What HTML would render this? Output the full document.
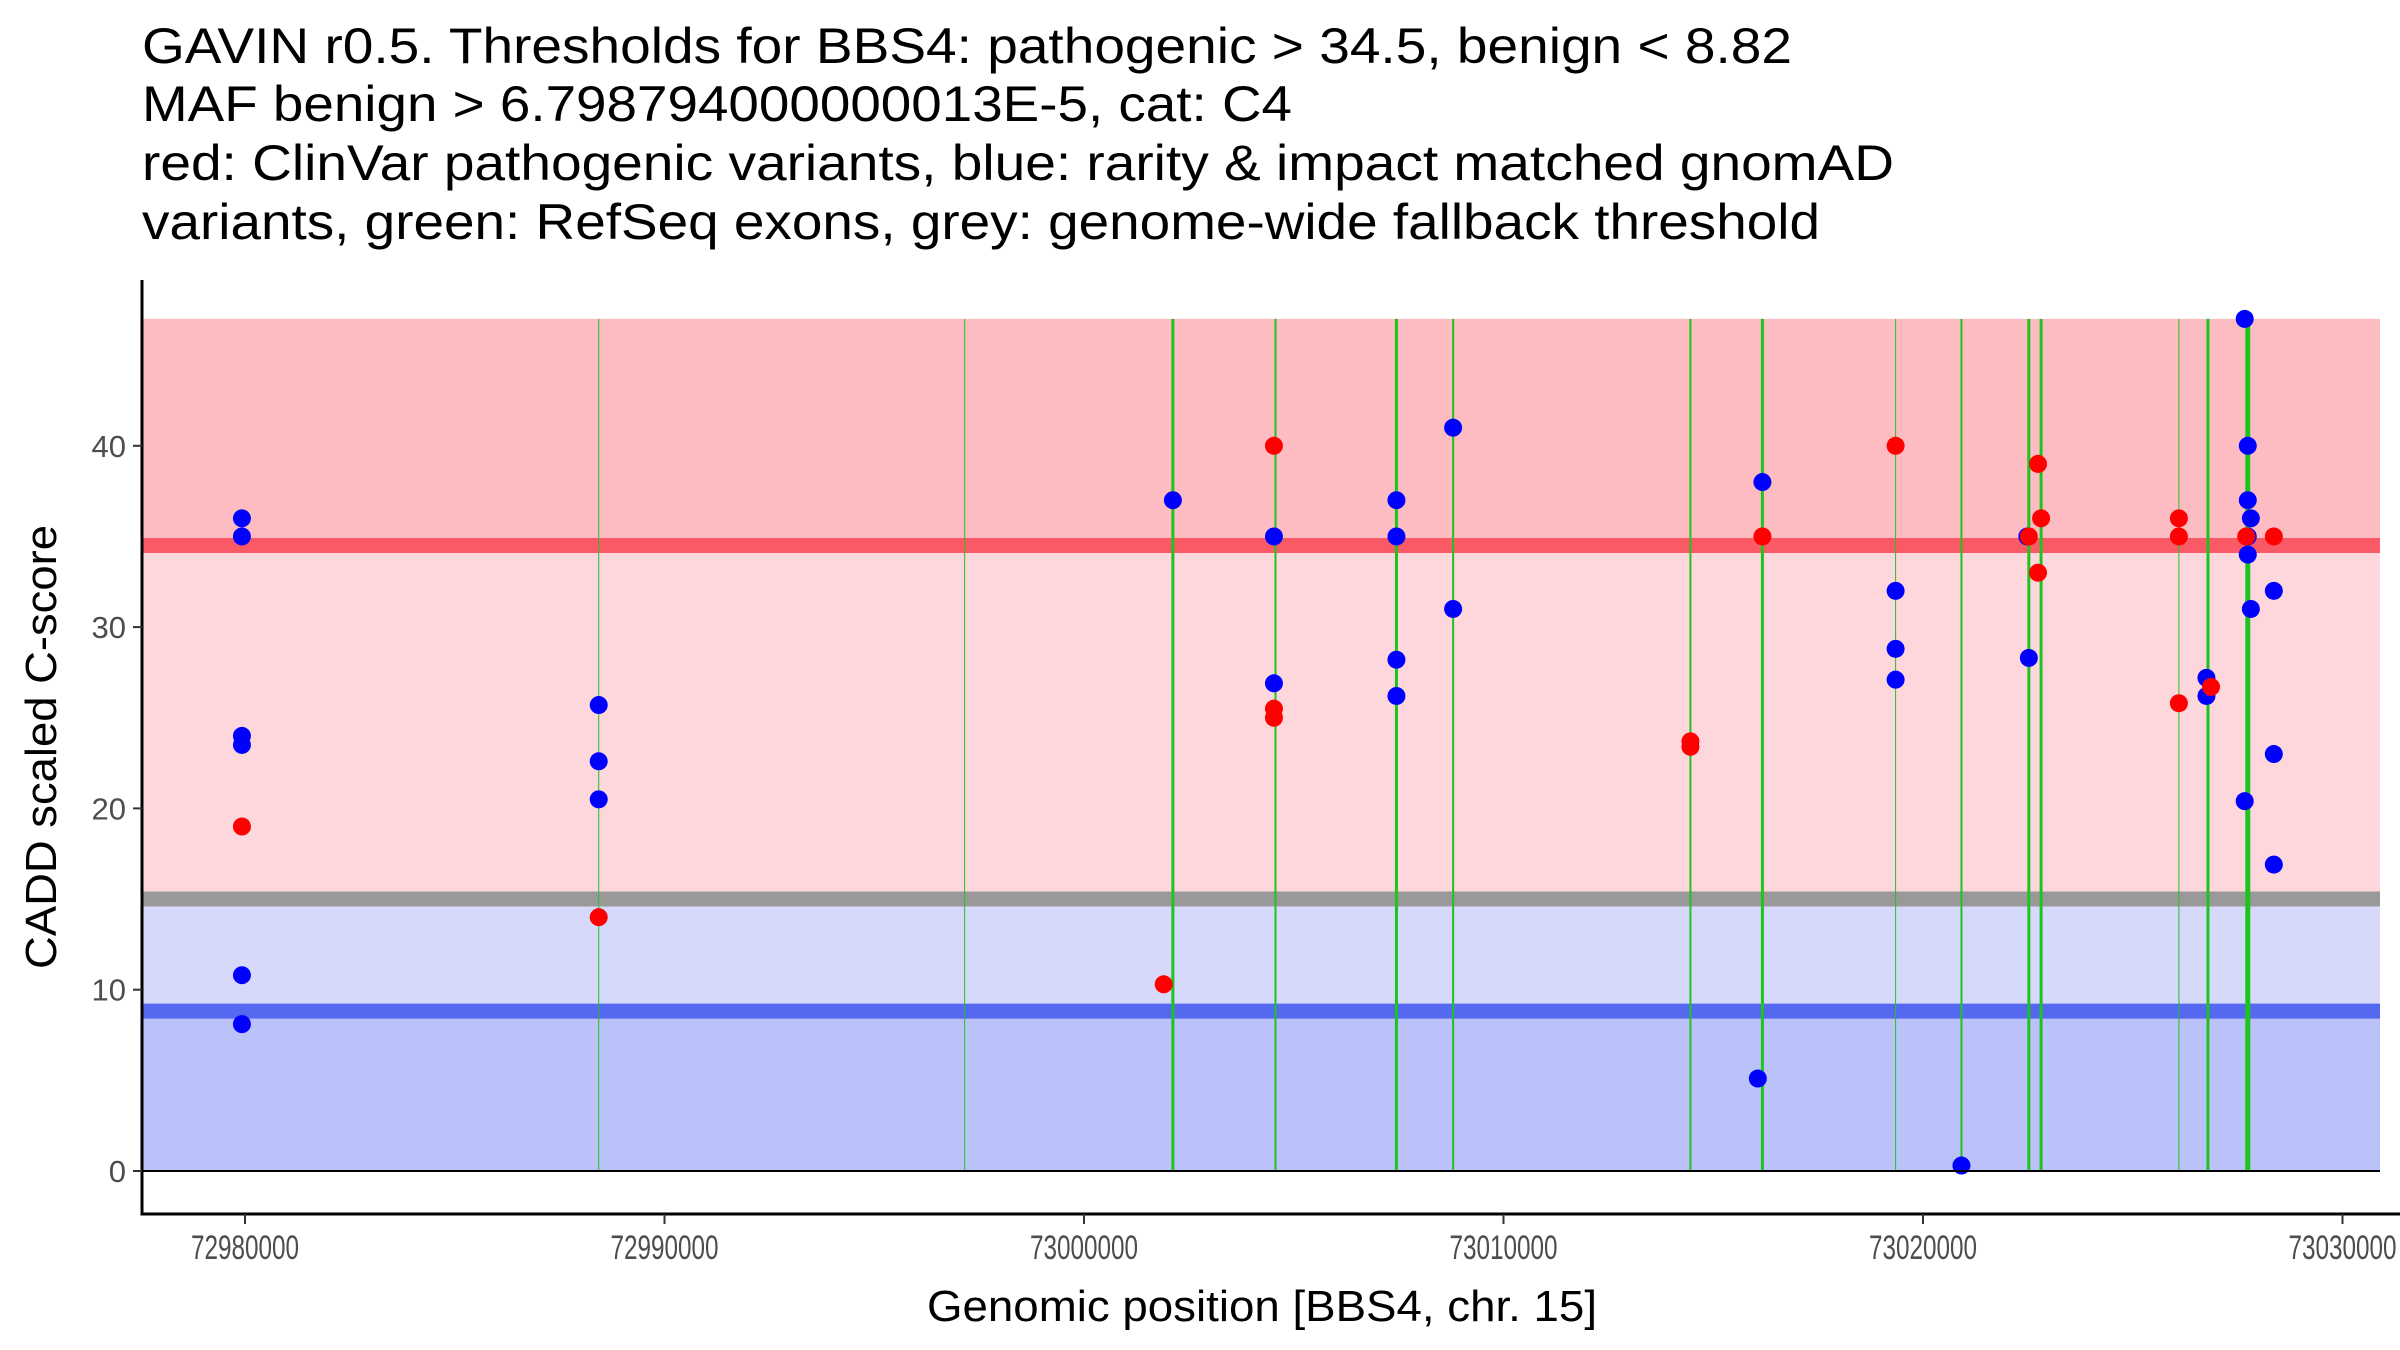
<!DOCTYPE html>
<html><head><meta charset="utf-8"><style>
html,body{margin:0;padding:0;background:#fff}
svg{display:block}
text{font-family:"Liberation Sans",Arial,sans-serif}
</style></head><body>
<svg id="chart" width="2400" height="1350" viewBox="0 0 2400 1350" xmlns="http://www.w3.org/2000/svg">
<g font-size="50" fill="#000">
<text x="142" y="63" textLength="1650" lengthAdjust="spacingAndGlyphs">GAVIN r0.5. Thresholds for BBS4: pathogenic &gt; 34.5, benign &lt; 8.82</text>
<text x="142" y="121" textLength="1150" lengthAdjust="spacingAndGlyphs">MAF benign &gt; 6.798794000000013E-5, cat: C4</text>
<text x="142" y="180" textLength="1752" lengthAdjust="spacingAndGlyphs">red: ClinVar pathogenic variants, blue: rarity &amp; impact matched gnomAD</text>
<text x="142" y="239" textLength="1678" lengthAdjust="spacingAndGlyphs">variants, green: RefSeq exons, grey: genome-wide fallback threshold</text>
</g>
<g id="bands"></g>
<g id="exons"></g>
<g id="points"></g>
<g id="axes"></g>
</svg>
<script>
const exonPositions=[72988432,72997155,73002119,73004565,73007448,73008799,73014456,73016172,73019347,73020917,73022523,73022815,73026100,73026793,73027742];
const exonWidths=[1,1,3,2,3,2,2,3,1,2,3,3,1,3,5];
const benignPos=[72979927,72979927,72979927,72979927,72979927,72979927,72988432,72988432,72988432,73002119,73004528,73004528,73007448,73007448,73007448,73007448,73008799,73008799,73016172,73016062,73019347,73019347,73019347,73020917,73022486,73022523,73026757,73026757,73027669,73027742,73027742,73027815,73027742,73027742,73027815,73027669,73028363,73028363,73028363];
const benignScore=[36,35,24,23.5,10.8,8.1,25.7,22.6,20.5,37,35,26.9,37,35,28.2,26.2,41,31,38,5.1,32,28.8,27.1,0.3,35,28.3,27.2,26.2,47,40,37,36,35,34,31,20.4,32,23,16.9];
const pathoPos=[72979927,72988432,73001900,73004528,73004528,73004528,73014456,73014456,73016172,73019347,73022523,73022742,73022815,73022742,73026100,73026100,73026100,73026866,73027705,73028363];
const pathoScore=[19,14,10.3,40,25.5,25.0,23.7,23.4,35,40,35,39,36,33,36,35,25.8,26.7,35,35];
const xTicks=[72980000,72990000,73000000,73010000,73020000,73030000];
const yTicks=[0,10,20,30,40];
const thrPatho=34.5, thrBenign=8.82, thrFallback=15, yTop=47;

const NS="http://www.w3.org/2000/svg";
const L=142,R=2380,T=280,B=1214;
const xs=v=>245+(v-72980000)/10000*419.5;
const ys=v=>1171-v*18.13;
function mk(p,tag,a){const e=document.createElementNS(NS,tag);for(const k in a)e.setAttribute(k,a[k]);p.appendChild(e);return e;}
const bands=document.getElementById('bands');
function band(lo,hi,c,n){const e=mk(bands,'rect',{x:L,y:ys(hi),width:R-L,height:ys(lo)-ys(hi),fill:c});

}
band(thrPatho,yTop,'#fdbcc1','pathogenic-band');
band(thrFallback,thrPatho,'#fdd7db','intermediate-band');
band(thrBenign,thrFallback,'#d7d9fb','benign-light-band');
band(0,thrBenign,'#bbc1f9','benign-band');
function hl(v,c,n){const e=mk(bands,'line',{x1:L,x2:R,y1:ys(v),y2:ys(v),stroke:c,'stroke-width':15});

}
hl(thrPatho,'#fa5a66','pathogenic-threshold-line');
hl(thrFallback,'#999999','fallback-threshold-line');
hl(thrBenign,'#5468f0','benign-threshold-line');
const ex=document.getElementById('exons');
exonPositions.forEach((p,i)=>{const e=mk(ex,'line',{x1:xs(p),x2:xs(p),y1:ys(yTop),y2:ys(0),stroke:'#1ec41e','stroke-width':exonWidths[i]});

});
const pts=document.getElementById('points');
benignPos.forEach((p,i)=>{const e=mk(pts,'circle',{cx:xs(p),cy:ys(benignScore[i]),r:9,fill:'#0000ff'});

});
pathoPos.forEach((p,i)=>{const e=mk(pts,'circle',{cx:xs(p),cy:ys(pathoScore[i]),r:9,fill:'#ff0000'});

});
const ax=document.getElementById('axes');
mk(ax,'line',{x1:L,x2:L,y1:T,y2:B+1.5,stroke:'#000','stroke-width':3});
mk(ax,'line',{x1:L-1.5,x2:2400,y1:B,y2:B,stroke:'#000','stroke-width':3});
mk(ax,'line',{x1:L,x2:R,y1:ys(0),y2:ys(0),stroke:'#000','stroke-width':2});
yTicks.forEach(v=>{mk(ax,'line',{x1:L-9,x2:L,y1:ys(v),y2:ys(v),stroke:'#333','stroke-width':2});
const t=mk(ax,'text',{x:L-16,y:ys(v)+11,'text-anchor':'end','font-size':31,fill:'#4d4d4d'});t.textContent=v;

});
xTicks.forEach(v=>{mk(ax,'line',{x1:xs(v),x2:xs(v),y1:B,y2:B+10,stroke:'#333','stroke-width':2});
const t=mk(ax,'text',{x:xs(v),y:B+45,'text-anchor':'middle','font-size':34,fill:'#4d4d4d',textLength:108,lengthAdjust:'spacingAndGlyphs'});t.textContent=v;

});
const xt=mk(ax,'text',{x:1262,y:1321,'text-anchor':'middle','font-size':44,fill:'#000',textLength:670,lengthAdjust:'spacingAndGlyphs'});xt.textContent='Genomic position [BBS4, chr. 15]';


const yt=mk(ax,'text',{x:0,y:0,'text-anchor':'middle','font-size':44,fill:'#000',textLength:444,lengthAdjust:'spacingAndGlyphs',transform:'translate(56,747) rotate(-90)'});yt.textContent='CADD scaled C-score';


</script>
</body></html>
